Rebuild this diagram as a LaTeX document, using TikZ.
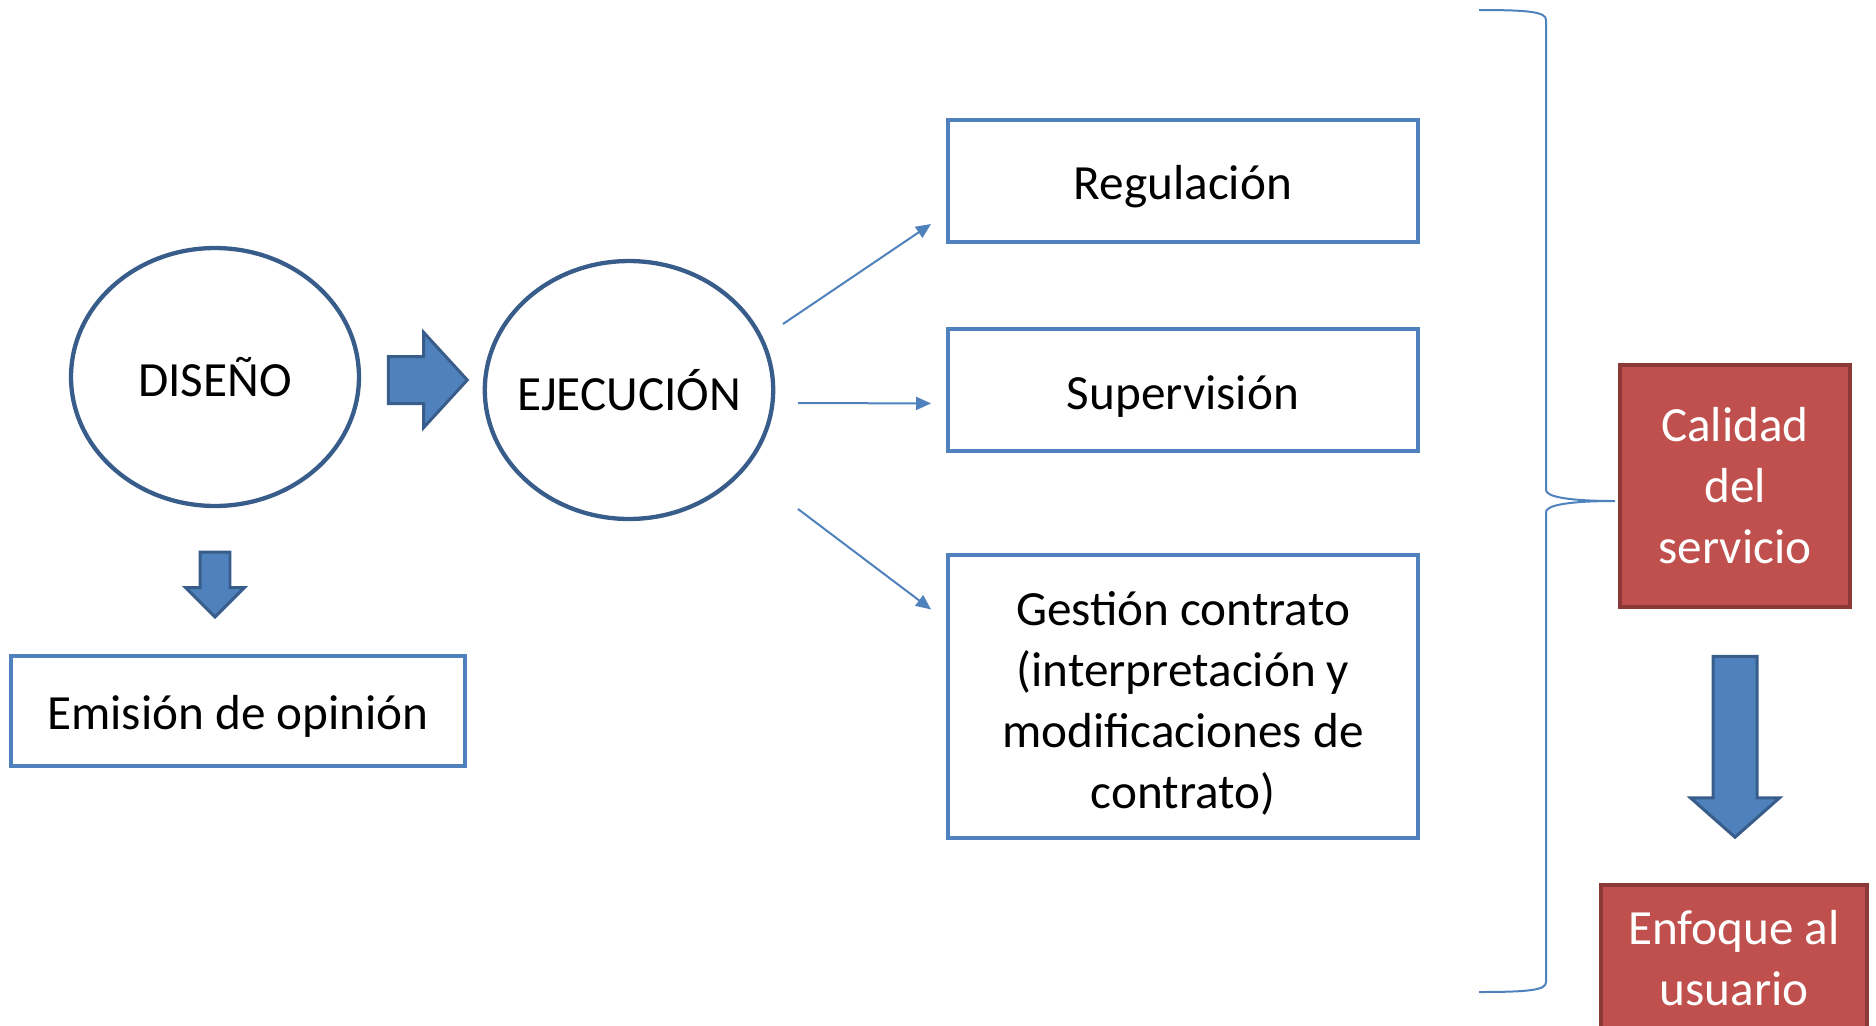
\documentclass[tikz,border=0pt]{standalone}
\usepackage{fontspec}
\setmainfont{Carlito}
\usetikzlibrary{arrows.meta,shapes,positioning}
\definecolor{boxblue}{HTML}{4F81BD}
\definecolor{ringblue}{HTML}{385D8A}
\definecolor{redfill}{HTML}{C0504D}
\definecolor{redline}{HTML}{8C3836}

\begin{document}
\begin{tikzpicture}[x=0.02cm,y=-0.02cm,>={Triangle[length=0.3cm,width=0.26cm]},font=\fontsize{28}{34.7}\selectfont]
  \tikzstyle{phase}=[ellipse,draw=ringblue,line width=0.086cm,inner sep=0pt,minimum width=5.76cm,minimum height=5.16cm]
  \tikzstyle{task}=[rectangle,draw=boxblue,line width=0.08cm,minimum width=9.4cm,minimum height=2.44cm,align=center]
  \tikzstyle{oneline}=[text height=0.95cm,text depth=0.2cm]
  \tikzstyle{goal}=[rectangle,draw=redline,fill=redfill,text=white,line width=0.08cm,minimum width=4.6cm,align=center]
  \tikzstyle{blockarrow}=[single arrow,draw=ringblue,fill=boxblue,line width=0.06cm]
  \tikzstyle{link}=[->,draw=boxblue,line width=0.04cm]

  \useasboundingbox (0,0) rectangle (1876,1025);

  \begin{scope}
    % Stages
    \node [phase] (diseno) at (215,377) {DISEÑO};
    \node [phase,inner xsep=-0.2cm] (ejecucion) at (629,390) {EJECUCIÓN};
    \node [task,oneline,minimum width=9.08cm,minimum height=2.2cm] (emision) at (238,711) {Emisión de opinión};
    % Tasks of the execution
    \node [task,oneline] (regulacion) at (1183,181) {Regulación};
    \node [task,oneline] (supervision) [below = 1.67cm of regulacion] {Supervisión};
    \node [task,minimum height=5.66cm] (gestion) [below = 2.0cm of supervision]
      {\rule{0pt}{0.95cm}Gestión contrato\\(interpretación y\\modificaciones de\\contrato)};
    % Goals
    \node [goal,minimum height=4.86cm] (calidad) at (1735,486) {Calidad\\del\\servicio};
    \node [goal,minimum width=5.34cm,minimum height=2.94cm] (enfoque) at (1734,958) {Enfoque al\\usuario};
  \end{scope}

  \begin{scope}
    % Block arrows
    \node [blockarrow,inner xsep=0pt,inner ysep=0.44cm,single arrow head extend=0.48cm,
      single arrow tip angle=95,minimum height=1.58cm] (a1) at (417,380) {};
    \node [blockarrow,inner ysep=0pt,inner xsep=0.27cm,single arrow head extend=0.29cm,
      minimum height=1.3cm,shape border rotate=270] (a2) at (215,577) {};
    \node [blockarrow,inner ysep=0pt,inner xsep=0.41cm,single arrow head extend=0.45cm,
      single arrow tip angle=97,minimum height=3.62cm,shape border rotate=270] (a3) at (1735,737) {};
  \end{scope}

  \begin{scope}
    \coordinate (s1) at (783,324);
    \coordinate (s2) at (798,403);
    \coordinate (s3) at (798,509);
    \draw [link] (s1) -- ([shift={(-15,-20)}]regulacion.south west);
    \draw [link] (s2) -- ([shift={(-15,13)}]supervision.west);
    \draw [link] (s3) -- ([shift={(-15,56)}]gestion.north west);
  \end{scope}

  % Brace
  \coordinate (tip) at (1615,501);
  \draw [boxblue,line width=0.04cm] (1479,10) .. controls (1530,10) and (1546,12) .. (1546,20)
    -- (1546,490) .. controls (1546,497) and (1570,501) .. (tip)
    .. controls (1570,501) and (1546,505) .. (1546,512)
    -- (1546,982) .. controls (1546,990) and (1530,992) .. (1479,992);
\end{tikzpicture}
\end{document}
